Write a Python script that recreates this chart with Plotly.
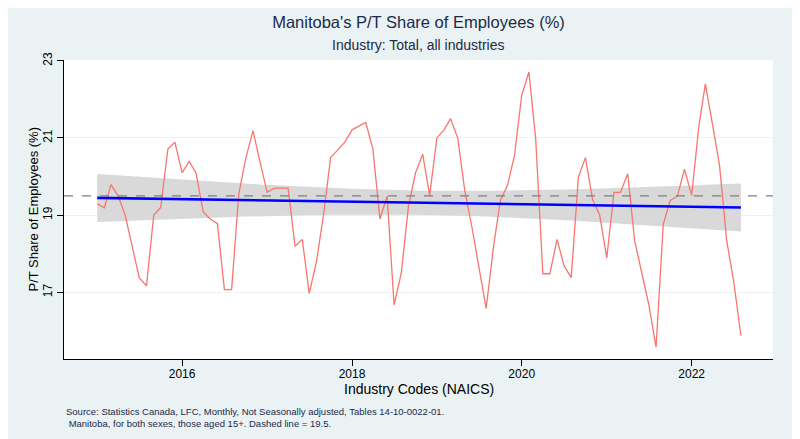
import numpy as np
import pandas as pd
import plotly.graph_objects as go

# monthly P/T share of employees, Manitoba, Jan 2015 - Aug 2022
share_2015 = [19.29, 19.19, 19.79, 19.5, 19.0, 18.15, 17.37, 17.17, 19.0, 19.2, 20.71, 20.89]
share_2016 = [20.1, 20.39, 20.09, 19.08, 18.9, 18.78, 17.07, 17.07, 19.55, 20.47, 21.19, 20.38]
share_2017 = [19.59, 19.7, 19.7, 19.7, 18.19, 18.37, 16.97, 17.79, 19.03, 20.49, 20.69, 20.89]
share_2018 = [21.21, 21.3, 21.4, 20.71, 18.9, 19.49, 16.67, 17.5, 19.24, 20.09, 20.58, 19.51]
share_2019 = [21.0, 21.21, 21.5, 20.99, 19.64, 18.68, 17.63, 16.58, 18.15, 19.38, 19.77, 20.55]
share_2020 = [22.1, 22.71, 20.99, 17.48, 17.48, 18.37, 17.69, 17.38, 19.99, 20.49, 19.4, 19.01]
share_2021 = [17.89, 19.59, 19.59, 20.07, 18.33, 17.5, 16.67, 15.58, 18.76, 19.38, 19.49, 20.19]
share_2022 = [19.51, 21.3, 22.4, 21.34, 20.29, 18.33, 17.28, 15.88]

share = (share_2015 + share_2016 + share_2017 + share_2018
         + share_2019 + share_2020 + share_2021 + share_2022)
months = pd.date_range("2015-01-01", periods=len(share), freq="MS")

ref_line = 19.5
y_ticks = [17, 19, 21, 23]
x_ticks = ["2016-01-01", "2018-01-01", "2020-01-01", "2022-01-01"]
x_labels = ["2016", "2018", "2020", "2022"]

# linear fit with 95% CI of the mean (like Stata lfitci)
t = np.arange(len(share), dtype=float)
y = np.array(share)
b1, b0 = np.polyfit(t, y, 1)
fit = b0 + b1 * t
n = len(y)
s = np.sqrt(np.sum((y - fit) ** 2) / (n - 2))
se = s * np.sqrt(1.0 / n + (t - t.mean()) ** 2 / np.sum((t - t.mean()) ** 2))
tcrit = 1.9867
lo = fit - tcrit * se
hi = fit + tcrit * se

NAVY = "#1c2a4a"
BG = "#eaf2f3"
FONT = "Liberation Sans, Arial, sans-serif"

# page body has an 8px margin, so the figure is 8px smaller and shifted
W, H = 792, 431
ML, MT, MR, MB = 56, 52, 27, 80
PH = H - MT - MB
PW = W - ML - MR

fig = go.Figure()

fig.add_trace(go.Scatter(
    x=list(months) + list(months[::-1]),
    y=list(hi) + list(lo[::-1]),
    fill="toself", fillcolor="#d9d9d9", line=dict(width=0),
    hoverinfo="skip", showlegend=False,
))
fig.add_trace(go.Scatter(
    x=months, y=share, mode="lines",
    line=dict(color="#f8766d", width=1.3), showlegend=False,
))
fig.add_trace(go.Scatter(
    x=months, y=fit, mode="lines",
    line=dict(color="#0000ff", width=2.6), showlegend=False,
))

fig.add_shape(type="line", xref="paper", yref="y", x0=0, x1=1,
              y0=ref_line, y1=ref_line,
              line=dict(color="#7f7f7f", width=1.2, dash="dash"))

fig.update_layout(
    width=W, height=H,
    margin=dict(l=ML, r=MR, t=MT, b=MB),
    paper_bgcolor=BG, plot_bgcolor="white",
    font=dict(family=FONT, color="black", size=12),
    title=dict(
        text="Manitoba's P/T Share of Employees (%)",
        xref="paper", x=0.5, xanchor="center",
        y=1 - 14 / H, yanchor="middle",
        font=dict(size=16.5, color=NAVY),
    ),
    xaxis=dict(
        range=["2014-08-11", "2022-12-17"],
        tickvals=x_ticks, ticktext=x_labels,
        showgrid=False, zeroline=False,
        showline=True, linecolor="black", linewidth=1,
        ticks="outside", ticklen=6, tickcolor="black",
        ticklabelstandoff=-2,
        tickfont=dict(size=12),
    ),
    yaxis=dict(
        range=[15.27, 23.02],
        tickvals=y_ticks, tickangle=-90,
        showgrid=True, gridcolor=BG, gridwidth=1, zeroline=False,
        showline=True, linecolor="black", linewidth=1,
        ticks="outside", ticklen=6, tickcolor="black",
        tickfont=dict(size=12),
    ),
)

fig.add_annotation(
    text="P/T Share of Employees (%)", xref="paper", yref="paper",
    x=-(64 - 33) / PW, y=0.5, xanchor="center", yanchor="middle",
    textangle=-90, showarrow=False, font=dict(size=13, color="black"),
)
fig.add_annotation(
    text="Industry Codes (NAICS)", xref="paper", yref="paper",
    x=0.5, y=-(389.3 - 359) / PH, xanchor="center", yanchor="middle",
    showarrow=False, font=dict(size=14, color="black"),
)
fig.add_annotation(
    text="Industry: Total, all industries", xref="paper", yref="paper",
    x=0.5, y=1 + (60 - 44.7) / PH, xanchor="center", yanchor="middle",
    showarrow=False, font=dict(size=14, color=NAVY),
)
fig.add_annotation(
    text=("Source: Statistics Canada, LFC, Monthly, Not Seasonally adjusted, Tables 14-10-0022-01."
          "<br> Manitoba, for both sexes, those aged 15+. Dashed line = 19.5."),
    xref="paper", yref="paper", x=0, y=-(404 - 359) / PH,
    xanchor="left", yanchor="top", align="left",
    showarrow=False, font=dict(size=9.5, color=NAVY),
)

fig.write_html("out.html")
